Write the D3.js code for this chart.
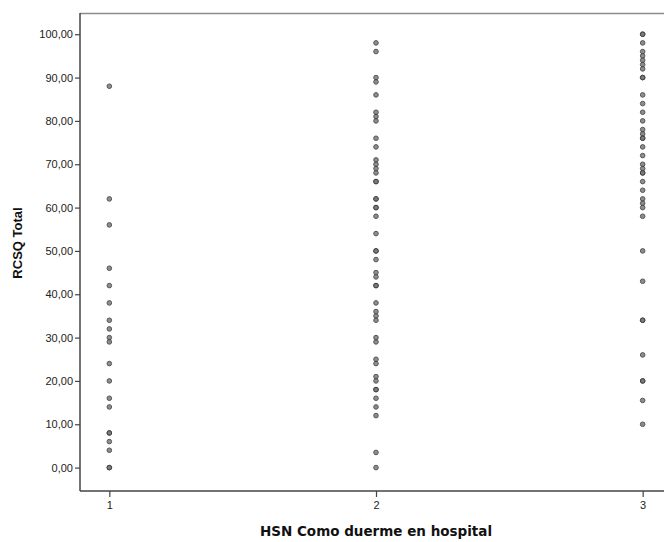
<!DOCTYPE html>
<html>
<head>
<meta charset="utf-8">
<script src="https://cdn.jsdelivr.net/npm/d3@7"></script>
<style>
  body { margin: 0; background: #fff; }
  svg { display: block; font-family: Arial, "Liberation Sans", sans-serif; }
</style>
</head>
<body>
<svg id="chart" width="664" height="542"></svg>
<script>
// RCSQ Total scores by HSN sleep-in-hospital rating (1, 2, 3)
const groups = [1, 2, 3];
const group1 = [88, 62, 56, 46, 42, 38, 34, 32, 30, 29, 24, 20, 16, 14, 8, 8, 6, 4, 0, 0];
const group2 = [98, 96, 90, 89, 86, 82, 81, 80, 76, 74, 71, 70, 69, 68, 66, 66, 62, 62, 60, 60, 58,
                54, 50, 50, 48, 45, 44, 42, 42, 38, 36, 35, 34, 30, 29, 25, 24, 21, 20, 18, 18,
                16, 14, 12, 3.5, 0];
const group3 = [100, 100, 98, 96, 95, 94, 93, 92, 90, 90, 86, 84, 82, 80, 78, 77, 76, 76, 74, 72,
                70, 69, 68, 68, 66, 64, 62, 61, 60, 58, 50, 43, 34, 34, 26, 20, 20, 15.5, 10];
const yTicks = [0, 10, 20, 30, 40, 50, 60, 70, 80, 90, 100];

const points = [];
[group1, group2, group3].forEach((vals, i) => vals.forEach(v => points.push({ g: groups[i], v })));

const svg = d3.select("#chart");
const x = d3.scaleLinear().domain([0.89, 3.08]).range([80, 664]);
const y = d3.scaleLinear().domain([-5.4, 104.9]).range([491, 13]);

// top frame line
svg.append("line")
  .attr("x1", 80).attr("x2", 664).attr("y1", 13.5).attr("y2", 13.5)
  .attr("stroke", "#8c8c8c").attr("stroke-width", 1.5);

// y axis
const yAxis = svg.append("g").attr("transform", "translate(80,0)")
  .call(d3.axisLeft(y).tickValues(yTicks).tickSize(5).tickPadding(2)
    .tickFormat(d => d3.format(".2f")(d).replace(".", ",")));
// x axis
const xAxis = svg.append("g").attr("transform", "translate(0,491)")
  .call(d3.axisBottom(x).tickValues(groups).tickSize(6).tickPadding(4).tickFormat(d3.format("d")));

[yAxis, xAxis].forEach(ax => {
  ax.select(".domain").attr("stroke", "#444").attr("stroke-width", 1.5);
  ax.selectAll(".tick line").attr("stroke", "#444").attr("stroke-width", 1.2);
  ax.selectAll(".tick text").attr("fill", "#222").attr("font-size", "11px")
    .attr("font-family", "Arial, 'Liberation Sans', sans-serif");
});
yAxis.select(".domain").attr("d", "M0,13V491");
xAxis.select(".domain").attr("d", "M80,0H664");

// points
svg.append("g").selectAll("circle").data(points).join("circle")
  .attr("cx", d => x(d.g)).attr("cy", d => y(d.v)).attr("r", 2.3)
  .attr("fill", "#7a7a7a").attr("stroke", "#3a3a3a").attr("stroke-width", 1)
  .attr("opacity", 0.85);

// axis titles
svg.append("text")
  .attr("x", 376).attr("y", 536).attr("text-anchor", "middle")
  .attr("font-family", "'DejaVu Sans', sans-serif")
  .attr("font-size", "13.5px").attr("font-weight", "bold").attr("fill", "#111")
  .text("HSN Como duerme en hospital");
svg.append("text")
  .attr("transform", "translate(22,243) rotate(-90)").attr("text-anchor", "middle")
  .attr("font-size", "13px").attr("font-weight", "bold").attr("fill", "#111")
  .text("RCSQ Total");
</script>
</body>
</html>
